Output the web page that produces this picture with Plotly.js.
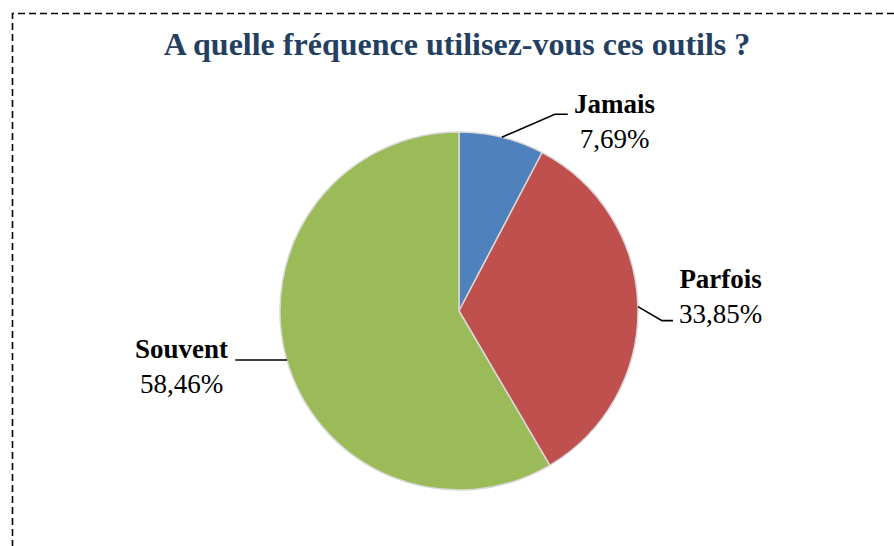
<!DOCTYPE html>
<html>
<head>
<meta charset="utf-8">
<script src="https://cdn.plot.ly/plotly-3.0.1.min.js"></script>
<style>html,body{margin:0;padding:0;background:#fff;}#chart{width:894px;height:546px;}</style>
</head>
<body>
<div id="chart"></div>
<script>
// ---- data ----
const categories = ["Jamais", "Parfois", "Souvent"];
const counts = [5, 22, 38];
const percentLabels = ["7,69%", "33,85%", "58,46%"];
const colors = ["#4F81BD", "#C0504D", "#9BBB59"];
const titleText = "A quelle fréquence utilisez-vous ces outils ?";

// ---- layout geometry (pixels) ----
const W = 894, H = 546;
const pieBox = {x0: 280, x1: 638, y0: 132, y1: 490};
const cx = (pieBox.x0 + pieBox.x1) / 2, cy = (pieBox.y0 + pieBox.y1) / 2;
const R = Math.min(pieBox.x1 - pieBox.x0, pieBox.y1 - pieBox.y0) / 2;
const px = x => x / W, py = y => 1 - y / H;

// label placement (pixels) and leader elbows relative to slice edge
const labelPos = [{x: 614, y: 121}, {x: 720, y: 296}, {x: 181, y: 366}];
const elbows = [
  [[53, -23], [66, -23]],
  [[24, 14], [35, 14]],
  [[-1, 0], [-51, 0]]
];

const total = counts.reduce((a, b) => a + b, 0);
let cum = 0;
const shapes = [];
const annotations = [];
categories.forEach((c, i) => {
  const mid = (cum + counts[i] / 2) / total * 2 * Math.PI;
  cum += counts[i];
  const ex = cx + R * Math.sin(mid), ey = cy - R * Math.cos(mid);
  let path;
  if (i === 2) {
    const y = ey + 2;
    path = `M ${px(ex + 1)} ${py(y)} L ${px(ex + elbows[i][1][0])} ${py(y)}`;
  } else {
    const p1 = [ex + elbows[i][0][0], ey + elbows[i][0][1]];
    const p2 = [ex + elbows[i][1][0], ey + elbows[i][1][1]];
    path = `M ${px(ex)} ${py(ey)} L ${px(p1[0])} ${py(p1[1])} L ${px(p2[0])} ${py(p2[1])}`;
  }
  shapes.push({type: 'path', xref: 'paper', yref: 'paper', path: path,
    line: {color: '#000', width: 1.6}});
  annotations.push({
    xref: 'paper', yref: 'paper', x: px(labelPos[i].x), y: py(labelPos[i].y),
    xanchor: 'center', yanchor: 'middle', align: 'center', showarrow: false,
    text: `<b>${c}</b><br>${percentLabels[i]}`,
    font: {family: 'Liberation Serif, Times New Roman, serif', size: 27, color: '#000'}
  });
});

// dashed outer border
shapes.push({type: 'rect', xref: 'paper', yref: 'paper',
  x0: px(12.5), x1: px(W + 20), y0: py(H + 20), y1: py(13.5),
  line: {color: '#000', width: 1.6, dash: '7px,4px'}, fillcolor: 'rgba(0,0,0,0)'});

const trace = {
  type: 'pie',
  labels: categories,
  values: counts,
  sort: false,
  direction: 'clockwise',
  rotation: 0,
  textinfo: 'none',
  hoverinfo: 'label+percent',
  marker: {colors: colors, line: {color: '#D9D9D9', width: 1.5}},
  domain: {x: [px(pieBox.x0), px(pieBox.x1)], y: [py(pieBox.y1), py(pieBox.y0)]},
  showlegend: false
};

const layout = {
  width: W, height: H,
  margin: {l: 0, r: 0, t: 0, b: 0},
  paper_bgcolor: '#fff',
  separators: ', ',
  showlegend: false,
  title: {
    text: `<b>${titleText}</b>`,
    x: px(457), y: py(44), xanchor: 'center', yanchor: 'middle',
    xref: 'paper', yref: 'paper',
    font: {family: 'Liberation Serif, Times New Roman, serif', size: 32, color: '#243F60'}
  },
  shapes: shapes,
  annotations: annotations
};

Plotly.newPlot('chart', [trace], layout, {displayModeBar: false, staticPlot: true});
</script>
</body>
</html>
